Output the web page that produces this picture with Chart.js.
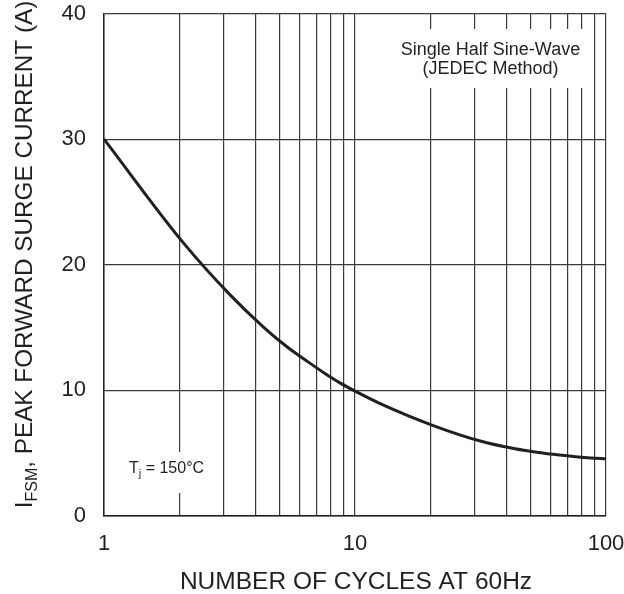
<!DOCTYPE html>
<html>
<head>
<meta charset="utf-8">
<script src="https://cdn.jsdelivr.net/npm/chart.js@4/dist/chart.umd.min.js"></script>
<style>
  html, body { margin: 0; padding: 0; background: #fff; }
  #wrap { width: 624px; height: 594px; position: relative; }
</style>
</head>
<body>
<div id="wrap"><canvas id="surge"></canvas></div>
<script>
// DATA
const cycles  = [1, 2.06, 3.18, 4.34, 5.37, 6.52, 7.59, 8.71, 10.1, 12.6, 20.5, 31.8, 43.4, 53.9, 65.2, 75.7, 86.9, 100];
const current = [30, 21.8, 17.6, 15.0, 13.45, 12.25, 11.35, 10.6, 9.9, 8.95, 7.2, 5.95, 5.35, 5.05, 4.85, 4.72, 4.62, 4.55];

// AXES
const xGridValues  = [1, 2, 3, 4, 5, 6, 7, 8, 9, 10, 20, 30, 40, 50, 60, 70, 80, 90, 100];
const xLabelValues = [1, 10, 100];
const yTickValues  = [0, 10, 20, 30, 40];

const FONT = '"Liberation Sans", Arial, Helvetica, sans-serif';
const INK = '#231f20';
const GRID = '#3a3a3a';

// text that chart.js can't do (subscripts, boxed notes)
const notesPlugin = {
  id: 'notes',
  afterDraw(chart) {
    const ctx = chart.ctx;
    ctx.save();
    ctx.fillStyle = INK;
    ctx.textBaseline = 'alphabetic';

    // boxed note, upper right
    ctx.font = '18px ' + FONT;
    const l1 = 'Single Half Sine-Wave', l2 = '(JEDEC Method)';
    const w1 = ctx.measureText(l1).width;
    const cx = 490.5;
    ctx.fillStyle = '#fff';
    ctx.fillRect(cx - w1 / 2 - 3, 29, w1 + 6, 59);
    ctx.fillStyle = INK;
    ctx.textAlign = 'center';
    ctx.fillText(l1, cx, 55);
    ctx.fillText(l2, cx, 73.5);

    // Tj note
    ctx.textAlign = 'left';
    ctx.font = '16px ' + FONT;
    const tW = ctx.measureText('T').width;
    ctx.font = '11px ' + FONT;
    const jW = ctx.measureText('j').width;
    ctx.font = '16px ' + FONT;
    const rest = ' = 150\u00B0C';
    const rW = ctx.measureText(rest).width;
    const tx = 129;
    ctx.fillStyle = '#fff';
    ctx.fillRect(tx - 4, 452, tW + jW + rW + 8, 41);
    ctx.fillStyle = INK;
    ctx.fillText('T', tx, 472.5);
    ctx.font = '11px ' + FONT;
    ctx.fillText('j', tx + tW, 476.5);
    ctx.font = '16px ' + FONT;
    ctx.fillText(rest, tx + tW + jW, 472.5);

    // x axis title
    ctx.textAlign = 'center';
    ctx.font = '24.5px ' + FONT;
    ctx.fillText('NUMBER OF CYCLES AT 60Hz', 356, 588.5);

    // y axis title with subscript
    ctx.translate(23, 254.5);
    ctx.rotate(-Math.PI / 2);
    ctx.textAlign = 'left';
    const big = '24.3px ' + FONT, small = '16px ' + FONT;
    const tail = ', PEAK FORWARD SURGE CURRENT (A)';
    ctx.font = big;
    const iW = ctx.measureText('I').width;
    const tailW = ctx.measureText(tail).width;
    ctx.font = small;
    const subW = ctx.measureText('FSM').width;
    let x0 = -(iW + subW + tailW) / 2;
    ctx.font = big;
    ctx.fillText('I', x0, 8.5);
    ctx.font = small;
    ctx.fillText('FSM', x0 + iW, 13.5);
    ctx.font = big;
    ctx.fillText(tail, x0 + iW + subW, 8.5);
    ctx.restore();
  }
};

new Chart(document.getElementById('surge'), {
  type: 'line',
  data: {
    datasets: [{
      data: cycles.map((c, i) => ({ x: c, y: current[i] })),
      borderColor: INK,
      borderWidth: 3,
      pointRadius: 0,
      fill: false,
      cubicInterpolationMode: 'monotone'
    }]
  },
  options: {
    responsive: true,
    maintainAspectRatio: false,
    animation: false,
    devicePixelRatio: 1,
    layout: { padding: { top: 13.5, right: 18, left: 0, bottom: 0 } },
    plugins: { legend: { display: false }, tooltip: { enabled: false } },
    scales: {
      x: {
        type: 'logarithmic',
        min: 1, max: 100,
        afterBuildTicks: s => { s.ticks = xGridValues.map(v => ({ value: v })); },
        afterFit: s => { s.height = 78; s.paddingLeft = 0; s.paddingRight = 0; },
        grid: { color: GRID, lineWidth: 1.2, drawTicks: false },
        border: { color: INK, width: 1.5 },
        ticks: {
          autoSkip: false, maxRotation: 0, padding: 15,
          color: INK, font: { family: FONT, size: 22 },
          callback: v => xLabelValues.includes(v) ? String(v) : ''
        }
      },
      y: {
        min: 0, max: 40,
        afterBuildTicks: s => { s.ticks = yTickValues.map(v => ({ value: v })); },
        afterFit: s => { s.width = 104; s.paddingTop = 0; s.paddingBottom = 0; },
        grid: { color: GRID, lineWidth: 1.2, drawTicks: false },
        border: { color: INK, width: 1.5 },
        ticks: { padding: 18, color: INK, font: { family: FONT, size: 22 } }
      }
    }
  },
  plugins: [notesPlugin]
});
</script>
</body>
</html>
